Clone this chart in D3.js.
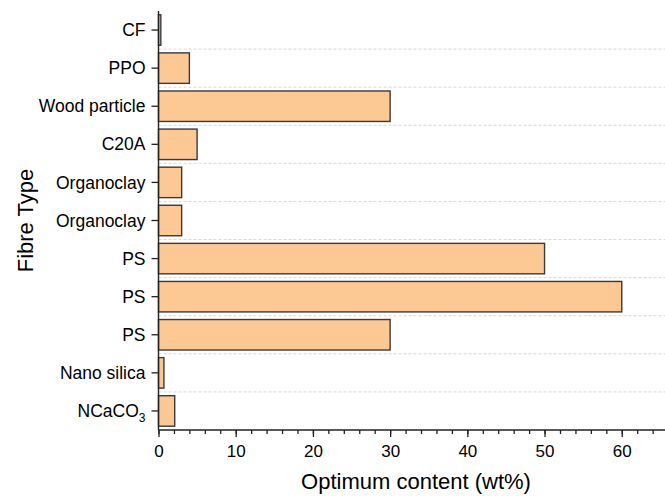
<!DOCTYPE html>
<html>
<head>
<meta charset="utf-8">
<script src="https://cdn.jsdelivr.net/npm/d3@7"></script>
<style>
  html, body { margin: 0; padding: 0; background: #fff; }
  svg { display: block; font-family: "Liberation Sans", Arial, sans-serif; }
</style>
</head>
<body>
<svg id="chart" width="665" height="496"></svg>
<script>
// Data (top to bottom)
const categories = ["CF", "PPO", "Wood particle", "C20A", "Organoclay", "Organoclay", "PS", "PS", "PS", "Nano silica", "NCaCO3"];
const values = [0.3, 4, 30, 5, 3, 3, 50, 60, 30, 0.7, 2.1];
const xTicks = [0, 10, 20, 30, 40, 50, 60];
const xTitle = "Optimum content (wt%)";
const yTitle = "Fibre Type";

(function () {
const data = categories.map((c, i) => ({ key: i, label: c, value: values[i] }));

const svg = d3.select("#chart");
const mLeft = 158.5, mRight = 665, mTop = 11, mBottom = 430;

const x = d3.scaleLinear().domain([0, 65.6]).range([mLeft, mRight]);
const y = d3.scaleBand().domain(data.map(d => d.key)).range([mTop, mBottom])
  .paddingInner(0.2).paddingOuter(0.1);

// dashed separators between categories
const step = y.step();
const seps = d3.range(1, categories.length);
svg.append("g").selectAll("line").data(seps).join("line")
  .attr("x1", mLeft).attr("x2", mRight)
  .attr("y1", i => mTop + step * i).attr("y2", i => mTop + step * i)
  .attr("stroke", "#d9d9d9").attr("stroke-width", 1)
  .attr("stroke-dasharray", "3,2");

// bars
svg.append("g").selectAll("rect").data(data).join("rect")
  .attr("x", x(0))
  .attr("y", d => y(d.key))
  .attr("width", d => x(d.value) - x(0))
  .attr("height", y.bandwidth())
  .attr("fill", "#FCC894")
  .attr("stroke", "#3a3a3a")
  .attr("stroke-width", 1.4);

// x axis minor ticks
svg.append("g").attr("transform", `translate(0,${mBottom})`)
  .call(d3.axisBottom(x).tickValues(d3.range(0, 66, 2)).tickSize(4).tickFormat(""))
  .call(g => g.select(".domain").remove())
  .call(g => g.selectAll("line").attr("stroke", "#222").attr("stroke-width", 1.3));
// x axis major ticks
svg.append("g").attr("transform", `translate(0,${mBottom})`)
  .call(d3.axisBottom(x).tickValues(xTicks).tickSize(7).tickPadding(8).tickFormat(d3.format("d")))
  .call(g => g.select(".domain").remove())
  .call(g => g.selectAll("line").attr("stroke", "#222").attr("stroke-width", 1.3))
  .call(g => g.selectAll("text").attr("font-size", "17px").attr("fill", "#000")
    .attr("font-family", "Liberation Sans, Arial, sans-serif"));
svg.append("line").attr("x1", mLeft).attr("x2", mRight).attr("y1", mBottom).attr("y2", mBottom)
  .attr("stroke", "#222").attr("stroke-width", 1.4);

// y axis
const yAxis = svg.append("g").attr("transform", `translate(${mLeft},0)`);
yAxis.call(d3.axisLeft(y).tickSize(7).tickPadding(4).tickFormat(() => ""))
  .call(g => g.select(".domain").remove())
  .call(g => g.selectAll("line").attr("stroke", "#222").attr("stroke-width", 1.3));
yAxis.selectAll(".tick").each(function (k) {
  const t = d3.select(this).append("text")
    .attr("x", -13).attr("dy", "0.35em")
    .attr("text-anchor", "end")
    .attr("font-size", "17.5px").attr("fill", "#000")
    .attr("font-family", "Liberation Sans, Arial, sans-serif");
  const lab = categories[k];
  if (lab === "NCaCO3") {
    t.append("tspan").text("NCaCO");
    t.append("tspan").text("3").attr("font-size", "12px").attr("dy", "5");
  } else {
    t.text(lab);
  }
});
svg.append("line").attr("x1", mLeft).attr("x2", mLeft).attr("y1", mTop).attr("y2", mBottom)
  .attr("stroke", "#222").attr("stroke-width", 1.4);

// titles
svg.append("text").attr("x", 416).attr("y", 489)
  .attr("text-anchor", "middle").attr("font-size", "22px").attr("fill", "#000")
  .text(xTitle);
svg.append("text").attr("transform", `translate(33,${(mTop + mBottom) / 2}) rotate(-90)`)
  .attr("text-anchor", "middle").attr("font-size", "22px").attr("fill", "#000")
  .text(yTitle);
})();
</script>
</body>
</html>
